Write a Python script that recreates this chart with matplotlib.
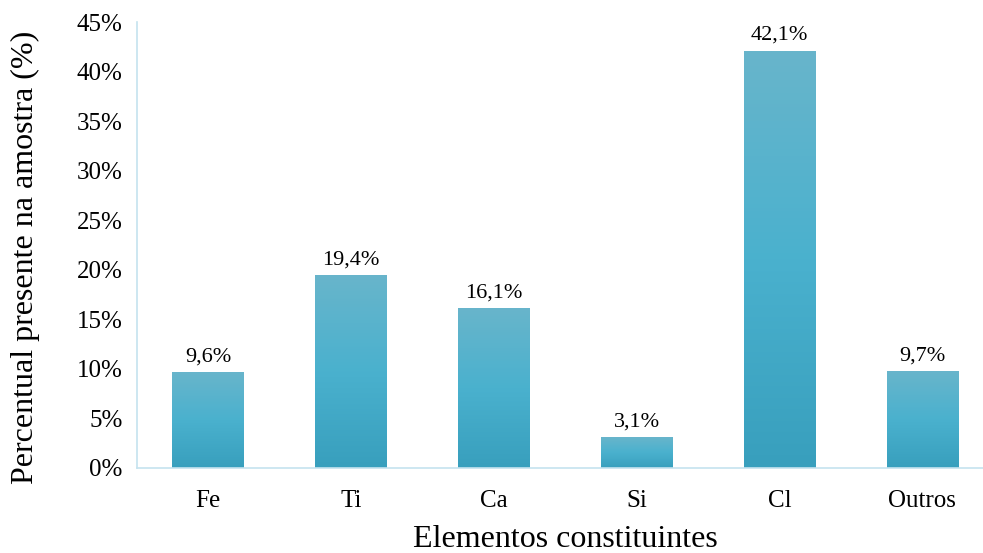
import matplotlib.pyplot as plt
import numpy as np
from matplotlib.colors import LinearSegmentedColormap

elementos = ["Fe", "Ti", "Ca", "Si", "Cl", "Outros"]
percentual = [9.6, 19.4, 16.1, 3.1, 42.1, 9.7]
rotulos = ["9,6%", "19,4%", "16,1%", "3,1%", "42,1%", "9,7%"]

plt.rcParams['font.family'] = ['Liberation Serif', 'DejaVu Serif']

fig = plt.figure(figsize=(9.83, 5.53), dpi=100)
ax = fig.add_axes([0.139, 0.154, 0.872, 0.806])

x = np.arange(len(elementos))
bars = ax.bar(x, percentual, width=0.5, color='none', edgecolor='none')

# gradiente vertical em cada barra
cmap = LinearSegmentedColormap.from_list('grad', ['#389fbd', '#4ab1ce', '#68b5cb'])
grad = np.linspace(0, 1, 256).reshape(-1, 1)
for b in bars:
    x0, w, h = b.get_x(), b.get_width(), b.get_height()
    ax.imshow(grad, cmap=cmap, origin='lower', aspect='auto',
              extent=(x0, x0 + w, 0, h), zorder=2)

for xi, v, r in zip(x, percentual, rotulos):
    ax.text(xi, v + 0.6, r, ha='center', va='bottom', fontsize=16)

ax.set_xlim(-0.5, len(elementos) - 0.5)
ax.set_ylim(0, 45)
ax.set_yticks(np.arange(0, 46, 5))
ax.set_yticklabels([f"{t}%" for t in range(0, 46, 5)])
ax.set_xticks(x)
ax.set_xticklabels(elementos)
ax.tick_params(axis='both', length=0, labelsize=18)
ax.tick_params(axis='x', pad=16)
ax.tick_params(axis='y', pad=10)

for s in ['top', 'right']:
    ax.spines[s].set_visible(False)
for s in ['left', 'bottom']:
    ax.spines[s].set_color('#c5e3ef')
    ax.spines[s].set_linewidth(1.2)

ax.set_xlabel("Elementos constituintes", fontsize=23, labelpad=9)
ax.set_ylabel("Percentual presente na amostra (%)", fontsize=23)
ax.yaxis.set_label_coords(-0.113, 0.473)

fig.savefig("out.png", dpi=100)
